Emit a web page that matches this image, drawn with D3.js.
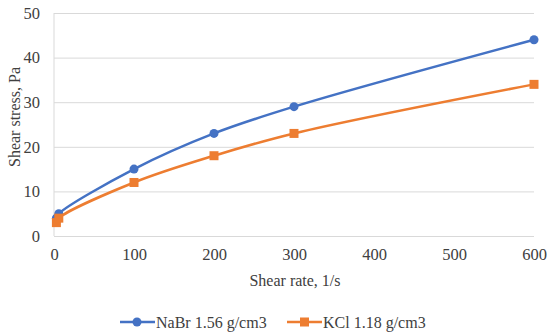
<!DOCTYPE html>
<html>
<head>
<meta charset="utf-8">
<script src="https://cdn.jsdelivr.net/npm/d3@7"></script>
<style>
  body { margin: 0; background: #fff; }
  svg text { font-family: "Liberation Serif", "Times New Roman", serif; fill: #404040; }
</style>
</head>
<body>
<svg id="chart" width="550" height="333"></svg>
<script>
  // data
  var shearRate = [3, 6, 100, 200, 300, 600];
  var nabrStress = [4, 5, 15, 23, 29, 44];
  var kclStress = [3, 4, 12, 18, 23, 34];
  var seriesNames = ['NaBr 1.56 g/cm3', 'KCl 1.18 g/cm3'];
  var xTicks = [0, 100, 200, 300, 400, 500, 600];
  var yTicks = [0, 10, 20, 30, 40, 50];

  var svg = d3.select('#chart');

  var x = d3.scaleLinear().domain([0, 600]).range([54, 534]);
  var y = d3.scaleLinear().domain([0, 50]).range([236, 13]);

  // gridlines
  svg.append('g')
    .attr('transform', 'translate(54,0)')
    .call(d3.axisLeft(y).tickValues(yTicks).tickSize(-480).tickFormat(''))
    .call(g => g.select('.domain').remove())
    .selectAll('line').attr('stroke', '#d9d9d9');

  // left axis line
  svg.append('line')
    .attr('x1', 54).attr('x2', 54)
    .attr('y1', 13).attr('y2', 236)
    .attr('stroke', '#d9d9d9');

  // y labels
  var yAx = svg.append('g')
    .attr('transform', 'translate(54,0)')
    .call(d3.axisLeft(y).tickValues(yTicks).tickSize(0).tickPadding(14))
    .attr('font-family', null).attr('font-size', null);
  yAx.select('.domain').remove();
  yAx.selectAll('text')
    .style('font-size', '16.5px').attr('fill', '#404040');

  // x labels
  var xAx = svg.append('g')
    .attr('transform', 'translate(0,236)')
    .call(d3.axisBottom(x).tickValues(xTicks).tickSize(0).tickPadding(12))
    .attr('font-family', null).attr('font-size', null);
  xAx.select('.domain').remove();
  xAx.selectAll('text')
    .style('font-size', '16.5px').attr('fill', '#404040');

  // axis titles
  svg.append('text')
    .attr('x', 295).attr('y', 286)
    .attr('text-anchor', 'middle')
    .style('font-size', '16px')
    .text('Shear rate, 1/s');

  svg.append('text')
    .attr('transform', 'translate(20,117) rotate(-90)')
    .attr('text-anchor', 'middle')
    .style('font-size', '16px')
    .text('Shear stress, Pa');

  var series = [
    { name: seriesNames[0], values: nabrStress, color: '#4472C4', shape: 'circle' },
    { name: seriesNames[1], values: kclStress, color: '#ED7D31', shape: 'square' }
  ];

  var line = d3.line()
    .x(d => x(d[0]))
    .y(d => y(d[1]))
    .curve(d3.curveCatmullRom.alpha(0.5));

  series.forEach(function(s) {
    var pts = shearRate.map((r, i) => [r, s.values[i]]);
    svg.append('path')
      .attr('d', line(pts))
      .attr('fill', 'none')
      .attr('stroke', s.color)
      .attr('stroke-width', 2.5);

    var g = svg.append('g');
    if (s.shape == 'circle') {
      g.selectAll('circle').data(pts).enter().append('circle')
        .attr('cx', d => x(d[0]))
        .attr('cy', d => y(d[1]))
        .attr('r', 4.5)
        .attr('fill', s.color);
    } else {
      g.selectAll('rect').data(pts).enter().append('rect')
        .attr('x', d => x(d[0]) - 4.5)
        .attr('y', d => y(d[1]) - 4.5)
        .attr('width', 9).attr('height', 9)
        .attr('fill', s.color);
    }
  });

  // legend
  var legendX = [120, 287];
  series.forEach(function(s, i) {
    var lg = svg.append('g').attr('transform', 'translate(' + legendX[i] + ',322)');
    lg.append('line').attr('x1', 0).attr('x2', 35).attr('y1', 0).attr('y2', 0)
      .attr('stroke', s.color).attr('stroke-width', 2.5);
    if (s.shape == 'circle') {
      lg.append('circle').attr('cx', 17).attr('cy', 0).attr('r', 4.5).attr('fill', s.color);
    } else {
      lg.append('rect').attr('x', 13).attr('y', -4.5).attr('width', 9).attr('height', 9).attr('fill', s.color);
    }
    lg.append('text').attr('x', 36).attr('y', 5.5)
      .style('font-size', '16px')
      .text(s.name);
  });
</script>
</body>
</html>
